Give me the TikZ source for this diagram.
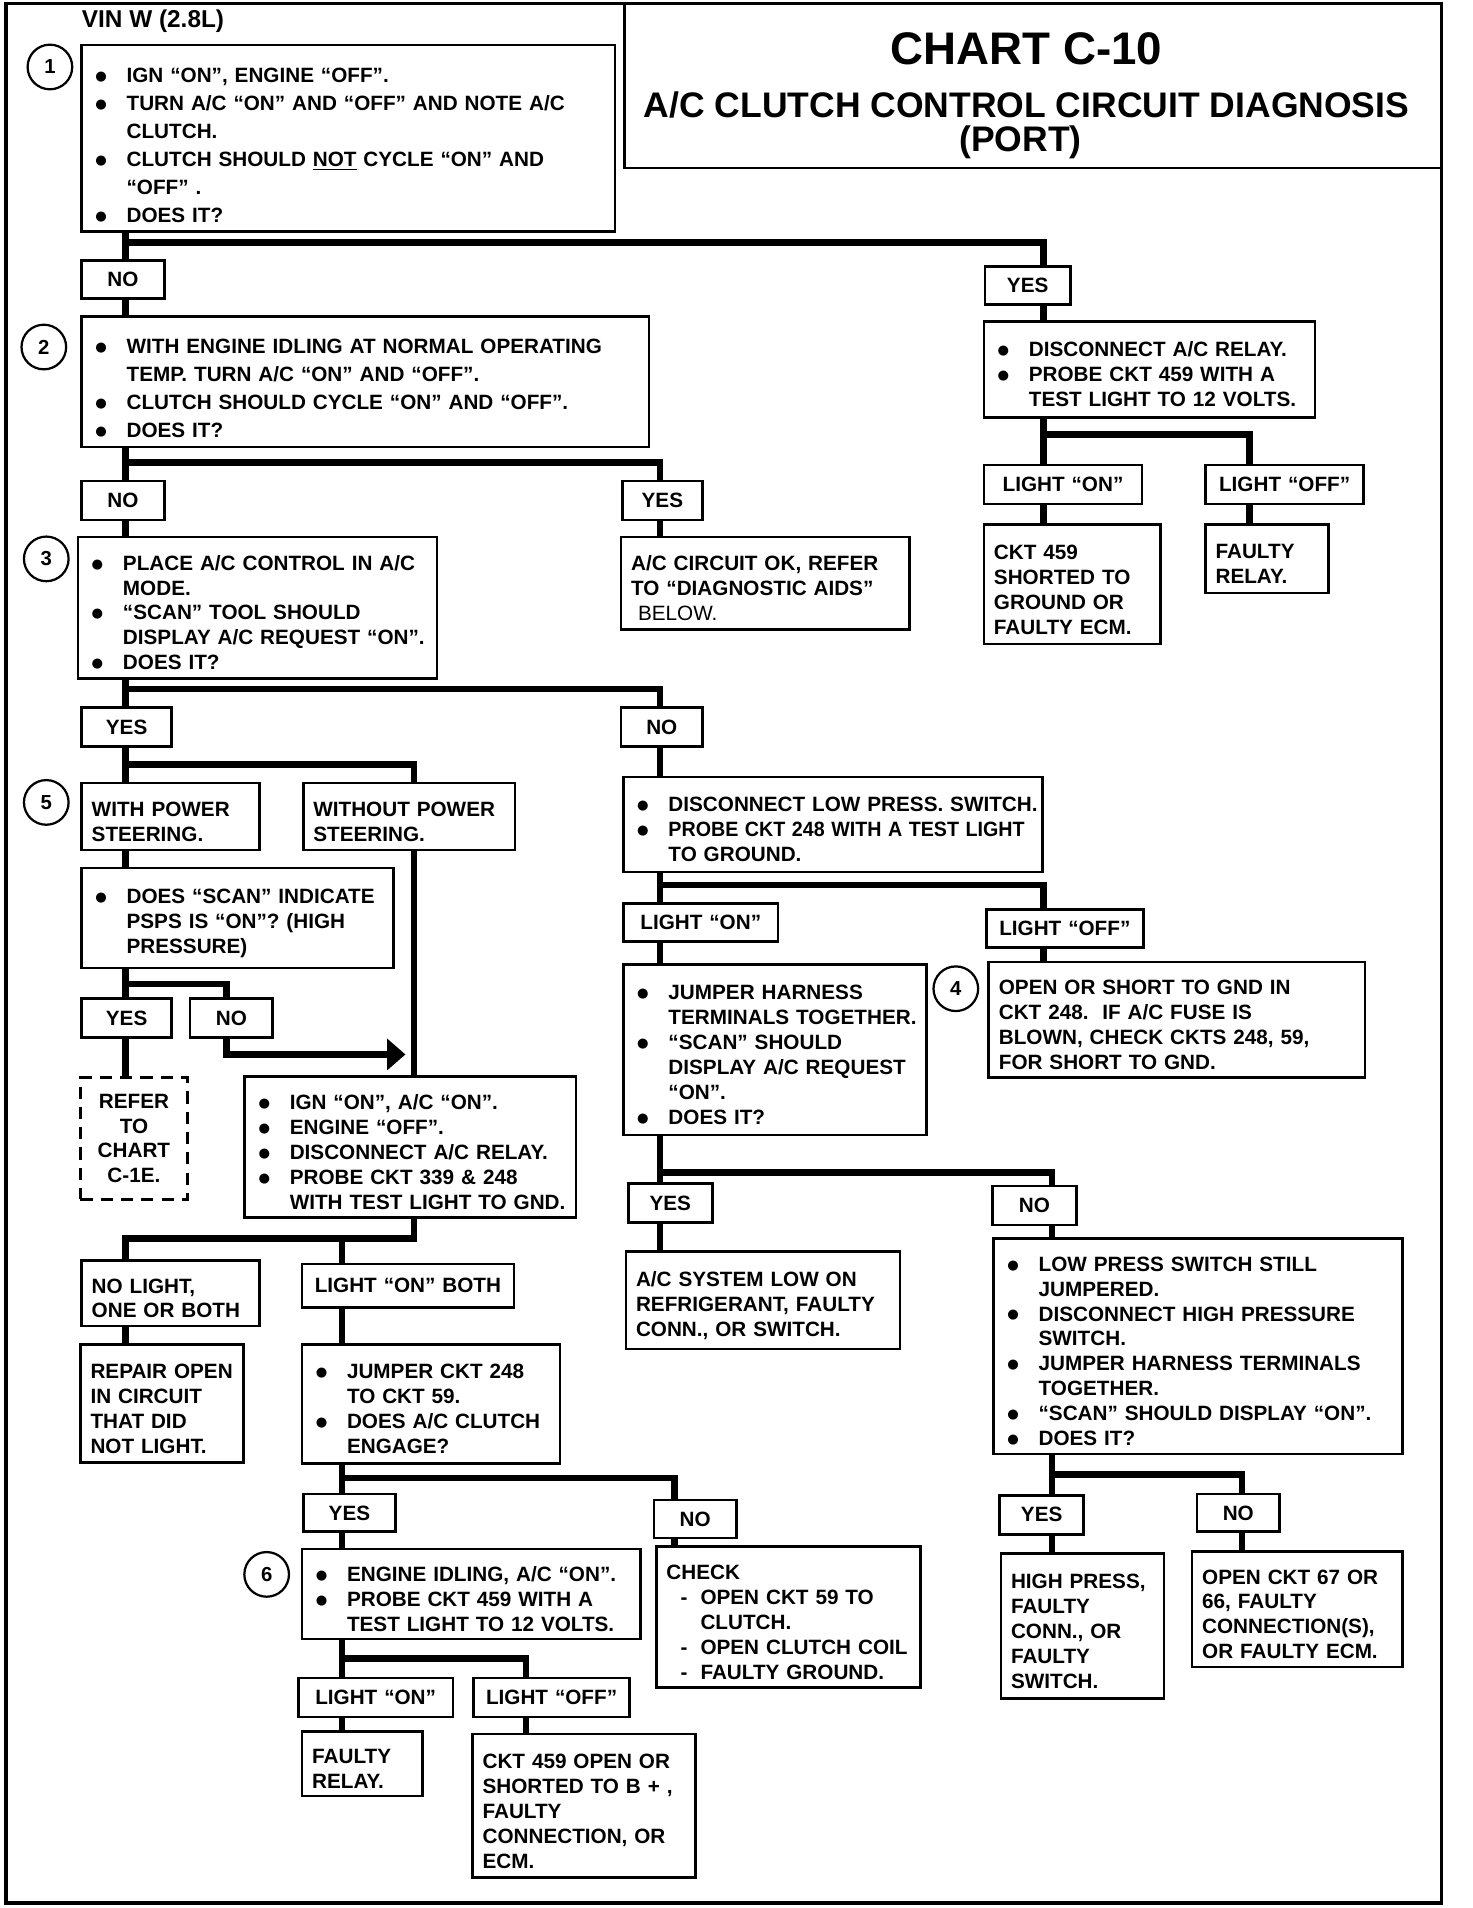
\documentclass[tikz,border=0pt]{standalone}
\usepackage{fontspec}
\setmainfont{Liberation Sans}
\newfontfamily\symf{DejaVu Sans}
\usetikzlibrary{arrows.meta}
\newcommand\mybul{\raisebox{1pt}{\symf\fontsize{6.5}{6.5}\selectfont ●}}
\newcommand\myb[1]{\par\noindent\hbox to 17.2pt{\hskip1.8pt\mybul\hfil}\mbox{#1}}
\newcommand\myc[1]{\par\noindent\hskip17.2pt\mbox{#1}}
\newcommand\myl[1]{\par\noindent\mbox{#1}}
\newcommand\myd[1]{\par\noindent\hbox to 16.8pt{\hskip7pt-\hfil}\mbox{#1}}
\newcommand\bx[7][]{%
  \pgfmathsetmacro\bxw{(#5-#3)*0.6}%
  \pgfmathsetmacro\bxh{(#6-#4)*0.6}%
  \pgfmathsetmacro\bxt{\bxw-10}%
  \node[box,text width=\bxt pt,minimum height=\bxh pt,#1] (#2) at ({(#3+#5)/2},{(#4+#6)/2}) {#7};}
\tikzset{
  box/.style={draw,line width=1.3pt,inner xsep=5pt,inner ysep=0pt,align=left,anchor=center,
    font=\bfseries\fontsize{10.2}{12.3}\selectfont},
  wide/.style={font=\bfseries\fontsize{10.2}{13.8}\selectfont},
  lbl/.style={align=center},
  dashbox/.style={dash pattern=on 6pt off 4pt},
  trunk/.style={line width=3.2pt},
  arr/.style={-{Triangle[length=9pt,width=15pt]}},
  frame/.style={line width=1.8pt},
  circ/.style={draw,circle,line width=1.1pt,minimum size=22pt,inner sep=0pt,
    font=\bfseries\fontsize{10}{12}\selectfont},
  ttl/.style={inner sep=0pt,font=\bfseries\fontsize{22.5}{26}\selectfont},
  sub/.style={inner sep=0pt,font=\bfseries\fontsize{17.5}{20}\selectfont},
}
\begin{document}
\begin{tikzpicture}[x=0.6pt,y=-0.6pt]
\useasboundingbox (0,0) rectangle (1209,1567);
\draw[frame] (5,3) rectangle (1184,1563);
\draw[line width=1.3pt] (513,3) |- (1184,138);
\node[ttl] (t1) at (843,40) {CHART C-10};
\node[sub] (t2) at (843,86) {A/C CLUTCH CONTROL CIRCUIT DIAGNOSIS};
\node[sub] (t3) at (838,117) {(PORT)};
\node[inner sep=0pt,anchor=west,font=\bfseries\fontsize{12}{14}\selectfont] (vin) at (67,17) {VIN W (2.8L)};

% columns and junctions
\coordinate (cA) at (103,0);
\coordinate (cB) at (542,0);
\coordinate (cC) at (857,0);
\coordinate (cD) at (1026,0);
\coordinate (cG) at (864,0);
\coordinate (cH) at (1020,0);
\coordinate (cW) at (340,0);
\coordinate (cN) at (186,0);
\coordinate (cL) at (281,0);
\coordinate (cJ) at (554,0);
\coordinate (cK) at (432,0);
\coordinate (j1) at (103,199);
\coordinate (j2) at (103,380);
\coordinate (jR) at (857,357);
\coordinate (j3) at (103,566);
\coordinate (j5) at (103,628);
\coordinate (jL) at (542,727);
\coordinate (jS) at (103,808);
\coordinate (jJ) at (542,963);
\coordinate (jI) at (103,1017);
\coordinate (jIL) at (281,1017);
\coordinate (jP) at (864,1211);
\coordinate (jC) at (281,1214);
\coordinate (j6) at (281,1362);
\coordinate (tip) at (333,866);

% circles
\node[circ] (n1) at (41,55) {1};
\node[circ] (n2) at (36,285) {2};
\node[circ] (n3) at (38,459) {3};
\node[circ] (n5) at (38,659) {5};
\node[circ] (n4) at (785,812) {4};
\node[circ] (n6) at (219,1293) {6};

% boxes
\bx[wide]{b1}{67}{37}{505}{190}{\myb{IGN “ON”, ENGINE “OFF”.}\myb{TURN A/C “ON” AND “OFF” AND NOTE A/C}\myc{CLUTCH.}\myb{CLUTCH SHOULD \underline{NOT} CYCLE “ON” AND}\myc{“OFF” .}\myb{DOES IT?}}
\bx[lbl]{no1}{67}{214}{135}{245}{NO}
\bx[lbl]{yes1}{809}{219}{879}{250}{YES}
\bx[wide]{b2}{67}{260}{533}{367}{\myb{WITH ENGINE IDLING AT NORMAL OPERATING}\myc{TEMP. TURN A/C “ON” AND “OFF”.}\myb{CLUTCH SHOULD CYCLE “ON” AND “OFF”.}\myb{DOES IT?}}
\bx{relay}{808}{264}{1080}{343}{\myb{DISCONNECT A/C RELAY.}\myb{PROBE CKT 459 WITH A}\myc{TEST LIGHT TO 12 VOLTS.}}
\bx[lbl]{lon1}{808}{382}{938}{414}{\mbox{LIGHT “ON”}}
\bx[lbl]{loff1}{990}{382}{1120}{414}{\mbox{LIGHT “OFF”}}
\bx{ckt}{808}{431}{953}{529}{\myl{CKT 459}\myl{SHORTED TO}\myl{GROUND OR}\myl{FAULTY ECM.}}
\bx{frelay}{990}{431}{1091}{487}{\myl{FAULTY}\myl{RELAY.}}
\bx[lbl]{no2}{67}{395}{135}{427}{NO}
\bx[lbl]{yes2}{511}{395}{577}{427}{YES}
\bx{acok}{510}{441}{747}{517}{\myl{A/C CIRCUIT OK, REFER}\myl{TO “DIAGNOSTIC AIDS”}\myl{\mdseries\ BELOW.}}
\bx{b3}{64}{441}{359}{557}{\myb{PLACE A/C CONTROL IN A/C}\myc{MODE.}\myb{“SCAN” TOOL SHOULD}\myc{DISPLAY A/C REQUEST “ON”.}\myb{DOES IT?}}
\bx[lbl]{yes3}{67}{581}{141}{613}{YES}
\bx[lbl]{no3}{510}{581}{577}{613}{NO}
\bx{wps}{67}{643}{213}{698}{\myl{WITH POWER}\myl{STEERING.}}
\bx{wops}{249}{643}{423}{698}{\myl{WITHOUT POWER}\myl{STEERING.}}
\bx{dss}{67}{713}{323}{795}{\myb{DOES “SCAN” INDICATE}\myc{PSPS IS “ON”? (HIGH}\myc{PRESSURE)}}
\bx[lbl]{yes5}{67}{820}{141}{852}{YES}
\bx[lbl]{no5}{156}{820}{224}{852}{NO}
\bx[lbl,dashbox]{refer}{66}{885}{154}{985}{REFER\\TO\\CHART\\C-1E.}
\bx{ign}{201}{884}{473}{1000}{\myb{IGN “ON”, A/C “ON”.}\myb{ENGINE “OFF”.}\myb{DISCONNECT A/C RELAY.}\myb{PROBE CKT 339 \& 248}\myc{WITH TEST LIGHT TO GND.}}
\bx{nol}{67}{1035}{213}{1089}{\myl{NO LIGHT,}\myl{ONE OR BOTH}}
\bx[lbl]{lob}{248}{1038}{422}{1074}{\mbox{LIGHT “ON” BOTH}}
\bx{rep}{66}{1104}{200}{1201}{\myl{REPAIR OPEN}\myl{IN CIRCUIT}\myl{THAT DID}\myl{NOT LIGHT.}}
\bx{jc}{248}{1104}{460}{1202}{\myb{JUMPER CKT 248}\myc{TO CKT 59.}\myb{DOES A/C CLUTCH}\myc{ENGAGE?}}
\bx[lbl]{yes6}{249}{1227}{325}{1258}{YES}
\bx[lbl]{no6}{537}{1232}{605}{1263}{NO}
\bx{b6}{248}{1272}{526}{1346}{\myb{ENGINE IDLING, A/C “ON”.}\myb{PROBE CKT 459 WITH A}\myc{TEST LIGHT TO 12 VOLTS.}}
\bx{chk}{539}{1270}{756}{1386}{\myl{CHECK}\myd{OPEN CKT 59 TO}\myc{\hskip-0.4pt CLUTCH.}\myd{OPEN CLUTCH COIL}\myd{FAULTY GROUND.}}
\bx[lbl]{lon3}{245}{1378}{372}{1410}{\mbox{LIGHT “ON”}}
\bx[lbl]{loff3}{389}{1378}{517}{1410}{\mbox{LIGHT “OFF”}}
\bx{fr2}{248}{1422}{347}{1475}{\myl{FAULTY}\myl{RELAY.}}
\bx{c459}{388}{1424}{571}{1542}{\myl{CKT 459 OPEN OR}\myl{SHORTED TO B + ,}\myl{FAULTY}\myl{CONNECTION, OR}\myl{ECM.}}
\bx{dlow}{512}{638}{856}{716}{\myb{DISCONNECT LOW PRESS. SWITCH.}\myb{\scalebox{0.95}[1]{PROBE CKT 248 WITH A TEST LIGHT}}\myc{TO GROUND.}}
\bx[lbl]{lon2}{512}{742}{639}{773}{\mbox{LIGHT “ON”}}
\bx[lbl]{loff2}{810}{747}{939}{778}{\mbox{LIGHT “OFF”}}
\bx{osg}{812}{790}{1121}{885}{\myl{OPEN OR SHORT TO GND IN}\myl{CKT 248.\ \ IF A/C FUSE IS}\myl{BLOWN, CHECK CKTS 248, 59,}\myl{FOR SHORT TO GND.}}
\bx{jh}{512}{792}{761}{932}{\myb{JUMPER HARNESS}\myc{TERMINALS TOGETHER.}\myb{“SCAN” SHOULD}\myc{DISPLAY A/C REQUEST}\myc{“ON”.}\myb{DOES IT?}}
\bx[lbl]{yes4}{516}{972}{585}{1004}{YES}
\bx[lbl]{no4}{815}{974}{884}{1006}{NO}
\bx{acsys}{514}{1028}{739}{1108}{\myl{A/C SYSTEM LOW ON}\myl{REFRIGERANT, FAULTY}\myl{CONN., OR SWITCH.}}
\bx{lps}{816}{1017}{1152}{1194}{\myb{LOW PRESS SWITCH STILL}\myc{JUMPERED.}\myb{DISCONNECT HIGH PRESSURE}\myc{SWITCH.}\myb{JUMPER HARNESS TERMINALS}\myc{TOGETHER.}\myb{“SCAN” SHOULD DISPLAY “ON”.}\myb{DOES IT?}}
\bx[lbl]{yes7}{821}{1228}{890}{1260}{YES}
\bx[lbl]{no7}{983}{1227}{1051}{1258}{NO}
\bx{hp}{822}{1276}{956}{1395}{\myl{HIGH PRESS,}\myl{FAULTY}\myl{CONN., OR}\myl{FAULTY}\myl{SWITCH.}}
\bx{oc67}{979}{1274}{1152}{1369}{\myl{OPEN CKT 67 OR}\myl{66, FAULTY}\myl{CONNECTION(S),}\myl{OR FAULTY ECM.}}

% connectors
\draw[trunk] (b1.south -| cA) -- (no1.north -| cA);
\draw[trunk] (j1) -| (yes1.north -| cC);
\draw[trunk] (no1.south -| cA) -- (b2.north -| cA);
\draw[trunk] (yes1.south -| cC) -- (relay.north -| cC);
\draw[trunk] (relay.south -| cC) -- (lon1.north -| cC);
\draw[trunk] (jR) -| (loff1.north -| cD);
\draw[trunk] (lon1.south -| cC) -- (ckt.north -| cC);
\draw[trunk] (loff1.south -| cD) -- (frelay.north -| cD);
\draw[trunk] (b2.south -| cA) -- (no2.north -| cA);
\draw[trunk] (j2) -| (yes2.north -| cB);
\draw[trunk] (yes2.south -| cB) -- (acok.north -| cB);
\draw[trunk] (no2.south -| cA) -- (b3.north -| cA);
\draw[trunk] (b3.south -| cA) -- (yes3.north -| cA);
\draw[trunk] (j3) -| (no3.north -| cB);
\draw[trunk] (no3.south -| cB) -- (dlow.north -| cB);
\draw[trunk] (dlow.south -| cB) -- (lon2.north -| cB);
\draw[trunk] (jL) -| (loff2.north -| cC);
\draw[trunk] (loff2.south -| cC) -- (osg.north -| cC);
\draw[trunk] (lon2.south -| cB) -- (jh.north -| cB);
\draw[trunk] (jh.south -| cB) -- (yes4.north -| cB);
\draw[trunk] (jJ) -| (no4.north -| cG);
\draw[trunk] (yes4.south -| cB) -- (acsys.north -| cB);
\draw[trunk] (no4.south -| cG) -- (lps.north -| cG);
\draw[trunk] (lps.south -| cG) -- (yes7.north -| cG);
\draw[trunk] (jP) -| (no7.north -| cH);
\draw[trunk] (yes7.south -| cG) -- (hp.north -| cG);
\draw[trunk] (no7.south -| cH) -- (oc67.north -| cH);
\draw[trunk] (yes3.south -| cA) -- (wps.north -| cA);
\draw[trunk] (j5) -| (wops.north -| cW);
\draw[trunk] (wps.south -| cA) -- (dss.north -| cA);
\draw[trunk] (dss.south -| cA) -- (yes5.north -| cA);
\draw[trunk] (jS) -| (no5.north -| cN);
\draw[trunk] (yes5.south -| cA) -- (refer.north -| cA);
\draw[trunk,arr] (no5.south -| cN) |- (tip);
\draw[trunk] (wops.south -| cW) -- (ign.north -| cW);
\draw[trunk] (ign.south -| cW) |- (jI) -- (nol.north -| cA);
\draw[trunk] (jIL) -- (lob.north -| cL);
\draw[trunk] (nol.south -| cA) -- (rep.north -| cA);
\draw[trunk] (lob.south -| cL) -- (jc.north -| cL);
\draw[trunk] (jc.south -| cL) -- (yes6.north -| cL);
\draw[trunk] (jC) -| (no6.north -| cJ);
\draw[trunk] (yes6.south -| cL) -- (b6.north -| cL);
\draw[trunk] (no6.south -| cJ) -- (chk.north -| cJ);
\draw[trunk] (b6.south -| cL) -- (lon3.north -| cL);
\draw[trunk] (j6) -| (loff3.north -| cK);
\draw[trunk] (lon3.south -| cL) -- (fr2.north -| cL);
\draw[trunk] (loff3.south -| cK) -- (c459.north -| cK);
\end{tikzpicture}
\end{document}
